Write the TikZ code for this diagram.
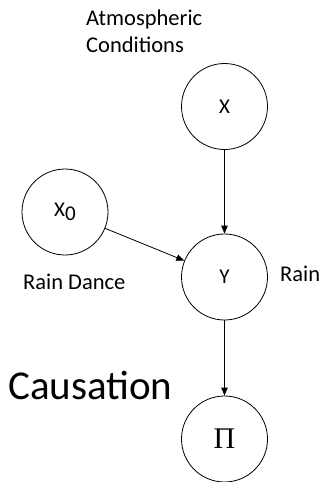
\documentclass[tikz,border=0pt]{standalone}
\usepackage{fontspec}
\setmainfont{Carlito}
\newfontfamily\serifpi{Liberation Serif}
\usetikzlibrary{arrows.meta}
\tikzset{
  var/.style={draw, circle, line width=0.8pt, minimum size=86pt, inner sep=0pt, font=\fontsize{21}{25}\selectfont},
  conn/.style={line width=0.8pt, -{Triangle[length=8pt,width=6.5pt]}},
  lbl/.style={anchor=base west, inner sep=0pt, font=\fontsize{22.5}{27}\selectfont, align=left}
}
\begin{document}
\begin{tikzpicture}[x=1pt,y=-1pt]
\useasboundingbox (0,0) rectangle (322,482);
\node[var] (X) at (224.5,106.5) {X};
\node[var] (X0) at (65,212) {X\raisebox{-0.35ex}{0}};
\node[var] (Y) at (224.5,277) {\raisebox{-0.2ex}{Y}};
\node[var, font=\serifpi\fontsize{30}{30}\selectfont] (P) at (224.5,439) {Π};
\draw[conn] (X) -- (Y);
\draw[conn] (X0) -- (Y);
\draw[conn] (Y) -- (P);
\node[lbl] (atm) at (86,25.5) {Atmospheric};
\node[lbl] (cond) at (86,52.5) {Conditions};
\node[lbl] (rd) at (23,289) {Rain Dance};
\node[lbl] (rain) at (280,281) {Rain};
\node[lbl, font=\fontsize{41}{45}\selectfont] (caus) at (8,399) {Causation};
\end{tikzpicture}
\end{document}
